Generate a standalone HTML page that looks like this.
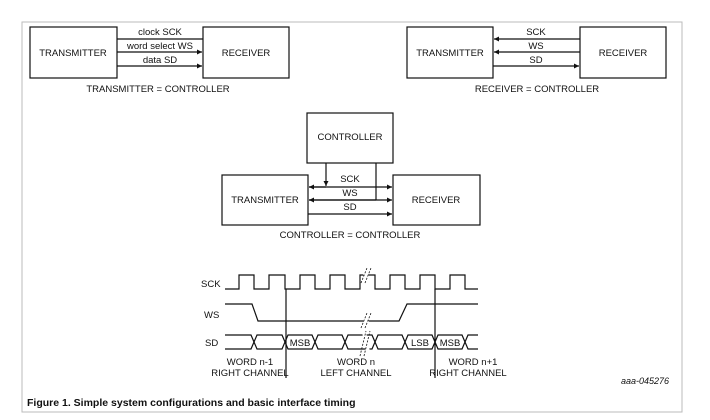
<!DOCTYPE html>
<html><head><style>
body{margin:0;background:#fff;}
svg{display:block;font-family:"Liberation Sans",Arial,sans-serif;}
text{font-size:9.5px;fill:#111;}
</style></head><body>
<svg width="710" height="420" viewBox="0 0 710 420">
<defs>
<marker id="a" markerWidth="6" markerHeight="6" refX="5" refY="3" orient="auto" markerUnits="userSpaceOnUse"><path d="M0,0.5 L5,3 L0,5.5z" fill="#111"/></marker>
</defs>
<rect x="22" y="22" width="660" height="390" fill="none" stroke="#bbb" stroke-width="1"/>
<g stroke="#111" stroke-width="1.2" fill="none">
<!-- top left -->
<rect x="30" y="27" width="87" height="51"/>
<rect x="203" y="27" width="86" height="51"/>
<line x1="117" y1="39" x2="203" y2="39"/>
<line x1="117" y1="52" x2="202" y2="52" marker-end="url(#a)"/>
<line x1="117" y1="66" x2="202" y2="66" marker-end="url(#a)"/>
<!-- top right -->
<rect x="407" y="27" width="86" height="51"/>
<rect x="580" y="27" width="86" height="51"/>
<line x1="580" y1="39" x2="494" y2="39" marker-end="url(#a)"/>
<line x1="580" y1="52" x2="494" y2="52" marker-end="url(#a)"/>
<line x1="493" y1="66" x2="579" y2="66" marker-end="url(#a)"/>
<!-- middle -->
<rect x="307" y="113" width="86" height="50"/>
<rect x="222" y="175" width="86" height="50"/>
<rect x="393" y="175" width="87" height="50"/>
<line x1="326" y1="163" x2="326" y2="186" marker-end="url(#a)"/>
<line x1="376" y1="163" x2="376" y2="200"/>
<line x1="309" y1="187" x2="392" y2="187" marker-end="url(#a)"/>
<line x1="326" y1="187" x2="309" y2="187" marker-end="url(#a)"/>
<line x1="309" y1="200" x2="392" y2="200" marker-end="url(#a)"/>
<line x1="376" y1="200" x2="309" y2="200" marker-end="url(#a)"/>
<line x1="308" y1="214" x2="392" y2="214" marker-end="url(#a)"/>
<!-- timing -->
<path d="M225,289 H239 V275 H254 V289 H269 V275 H285 V289 H300 V275 H315 V289 H330 V275 H345 V289 H360 V275 H375 V289 H390 V275 H405 V289 H420 V275 H435 V289 H450 V275 H465 V289 H478"/>
<path d="M225,304 H252 L258,321 H399 L407,304 H478"/>
<path d="M225,335 H251 L257,349 H282 L288,335 H312 L318,349 H342 L348,335 H372 L378,349 H402 L408,335 H432 L438,349 H462 L468,335 H478"/>
<path d="M225,349 H251 L257,335 H282 L288,349 H312 L318,335 H342 L348,349 H372 L378,335 H402 L408,349 H432 L438,335 H462 L468,349 H478"/>
<line x1="286" y1="289" x2="286" y2="378"/>
<line x1="435" y1="289" x2="435" y2="378"/>
</g>
<g stroke="#fff" stroke-width="4">
<line x1="364" y1="272" x2="368" y2="278"/>
<line x1="364" y1="318" x2="368" y2="324"/>
<line x1="364" y1="332" x2="368" y2="352"/>
</g>
<g stroke="#111" stroke-width="0.8" stroke-dasharray="2,1.5">
<line x1="361" y1="283" x2="367" y2="268"/><line x1="365" y1="283" x2="371" y2="268"/>
<line x1="361" y1="328" x2="367" y2="313"/><line x1="365" y1="328" x2="371" y2="313"/>
<line x1="360" y1="356" x2="366" y2="331"/><line x1="364" y1="356" x2="370" y2="331"/>
</g>
<g text-anchor="middle">
<text x="73" y="56">TRANSMITTER</text>
<text x="246" y="56">RECEIVER</text>
<text x="160" y="35">clock SCK</text>
<text x="160" y="49">word select WS</text>
<text x="160" y="63">data SD</text>
<text x="158" y="92">TRANSMITTER = CONTROLLER</text>
<text x="450" y="56">TRANSMITTER</text>
<text x="623" y="56">RECEIVER</text>
<text x="536" y="35">SCK</text>
<text x="536" y="49">WS</text>
<text x="536" y="63">SD</text>
<text x="537" y="92">RECEIVER = CONTROLLER</text>
<text x="350" y="140">CONTROLLER</text>
<text x="265" y="203">TRANSMITTER</text>
<text x="436" y="203">RECEIVER</text>
<text x="350" y="182">SCK</text>
<text x="350" y="196">WS</text>
<text x="350" y="210">SD</text>
<text x="350" y="238">CONTROLLER = CONTROLLER</text>
<text x="300" y="346">MSB</text>
<text x="420" y="346">LSB</text>
<text x="450" y="346">MSB</text>
<text x="250" y="365">WORD n-1</text>
<text x="250" y="376">RIGHT CHANNEL</text>
<text x="356" y="365">WORD n</text>
<text x="356" y="376">LEFT CHANNEL</text>
<text x="473" y="365">WORD n+1</text>
<text x="468" y="376">RIGHT CHANNEL</text>
</g>
<text x="201" y="287">SCK</text>
<text x="204" y="318">WS</text>
<text x="205" y="346">SD</text>
<text x="669" y="384" text-anchor="end" font-style="italic" style="font-size:9px">aaa-045276</text>
<text x="27" y="406" font-weight="bold" style="font-size:10.5px">Figure 1.  Simple system configurations and basic interface timing</text>
</svg>
</body></html>
